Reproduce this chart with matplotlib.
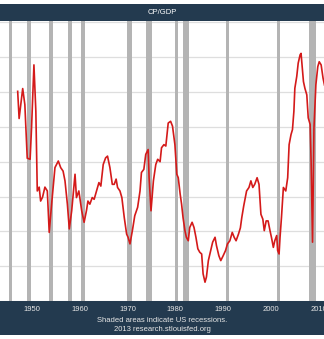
import matplotlib
matplotlib.use("Agg")
import matplotlib.pyplot as plt
from matplotlib.patches import Rectangle

# CP/GDP (percent)
years = [1947.0, 1947.3, 1948.05, 1948.5, 1949.0, 1949.6, 1949.9, 1950.4, 1950.8, 1951.1,
         1951.5, 1951.8, 1952.2, 1952.7, 1953.2, 1953.6, 1954.1, 1954.8, 1955.5, 1956.0,
         1956.5, 1956.9, 1957.4, 1957.8, 1958.3, 1959.0, 1959.3, 1959.8, 1960.4, 1960.9,
         1961.4, 1961.7, 1962.1, 1962.6, 1963.0, 1963.5, 1964.0, 1964.4, 1964.9, 1965.4,
         1965.8, 1966.3, 1966.8, 1967.2, 1967.6, 1967.9, 1968.4, 1968.8, 1969.3, 1969.8,
         1970.1, 1970.5, 1971.0, 1971.5, 1972.1, 1972.6, 1972.9, 1973.4, 1973.8, 1974.3,
         1974.5, 1974.9, 1975.4, 1975.9, 1976.3, 1976.8, 1977.1, 1977.6, 1978.0, 1978.5,
         1979.0, 1979.4, 1979.9, 1980.3, 1980.6, 1981.0, 1981.3, 1981.6, 1982.0, 1982.3,
         1982.7, 1983.0, 1983.5, 1983.9, 1984.3, 1984.7, 1985.1, 1985.5, 1985.8, 1986.2,
         1986.5, 1986.9, 1987.4, 1987.8, 1988.3, 1988.6, 1989.1, 1989.5, 1990.0, 1990.5,
         1990.9, 1991.4, 1991.9, 1992.3, 1992.7, 1993.2, 1993.6, 1993.9, 1994.3, 1994.9,
         1995.4, 1995.8, 1996.2, 1996.6, 1997.1, 1997.5, 1997.9, 1998.3, 1998.6, 1999.0,
         1999.4, 1999.8, 2000.1, 2000.5, 2000.8, 2001.2, 2001.4, 2001.7, 2001.9, 2002.2,
         2002.6, 2003.1, 2003.5, 2003.8, 2004.2, 2004.5, 2004.8, 2005.0, 2005.4, 2005.7,
         2006.1, 2006.3, 2006.5, 2006.8, 2007.1, 2007.5, 2007.8, 2008.2, 2008.4, 2008.7,
         2009.0, 2009.4, 2009.8, 2010.1, 2010.5, 2010.9, 2011.2]
cp_gdp = [9.02, 8.24, 9.10, 8.64, 7.10, 7.07, 7.97, 9.78, 8.45, 6.16,
          6.27, 5.87, 5.98, 6.27, 6.16, 4.97, 5.78, 6.83, 7.02, 6.83,
          6.73, 6.45, 5.78, 5.07, 5.59, 6.64, 5.97, 6.16, 5.59, 5.26,
          5.60, 5.87, 5.78, 5.97, 5.92, 6.16, 6.40, 6.30, 6.92, 7.11,
          7.16, 6.83, 6.35, 6.35, 6.50, 6.26, 6.16, 5.97, 5.40, 4.92,
          4.83, 4.64, 5.02, 5.45, 5.69, 6.16, 6.69, 6.78, 7.21, 7.35,
          6.54, 5.59, 6.45, 6.92, 7.07, 7.00, 7.40, 7.49, 7.45, 8.11,
          8.16, 8.02, 7.49, 6.64, 6.54, 6.07, 5.78, 5.40, 5.02, 4.83,
          4.73, 5.11, 5.26, 5.11, 4.83, 4.50, 4.40, 4.35, 3.78, 3.54,
          3.69, 4.16, 4.45, 4.69, 4.83, 4.59, 4.30, 4.16, 4.30, 4.45,
          4.64, 4.73, 4.97, 4.83, 4.73, 4.92, 5.10, 5.40, 5.73, 6.16,
          6.26, 6.45, 6.26, 6.35, 6.54, 6.35, 5.49, 5.35, 5.02, 5.30,
          5.30, 5.02, 4.83, 4.54, 4.73, 4.88, 4.45, 4.35, 4.83, 5.40,
          6.26, 6.16, 6.54, 7.49, 7.78, 7.92, 8.45, 9.11, 9.45, 9.83,
          10.07, 10.11, 9.78, 9.30, 9.11, 8.92, 8.26, 8.07, 7.02, 4.69,
          7.97, 9.21, 9.73, 9.87, 9.78, 9.40, 9.20]

recessions = [(1945.1, 1945.8), (1948.9, 1949.8), (1953.5, 1954.4), (1957.6, 1958.3),
              (1960.3, 1961.1), (1969.9, 1970.9), (1973.9, 1975.2), (1980.0, 1980.5),
              (1981.5, 1982.9), (1990.5, 1991.2), (2001.2, 2001.9), (2007.9, 2009.5)]
decades = [1950, 1960, 1970, 1980, 1990, 2000, 2010]

plt.rcParams['font.family'] = ['Liberation Sans', 'DejaVu Sans']
navy = '#233a4f'
W, H = 324, 339

fig = plt.figure(figsize=(W / 100, H / 100), dpi=100)
fig.patch.set_facecolor('white')

# header and footer bands (pixel rows from the top)
fig.patches.append(Rectangle((0, 1 - 21 / H), 1, 17 / H, transform=fig.transFigure,
                             facecolor=navy, edgecolor='none', zorder=-1))
fig.patches.append(Rectangle((0, 1 - 335 / H), 1, 34 / H, transform=fig.transFigure,
                             facecolor=navy, edgecolor='none', zorder=-1))
fig.text(0.5, 1 - 12.5 / H, 'CP/GDP', color='white', fontsize=5.5, ha='center', va='center')
fig.text(0.5, 1 - 320 / H, 'Shaded areas indicate US recessions.', color='#e6e6e6',
         fontsize=5.5, ha='center', va='center')
fig.text(0.5, 1 - 329.5 / H, '2013 research.stlouisfed.org', color='#e6e6e6',
         fontsize=5.5, ha='center', va='center')

ax = fig.add_axes([0, 1 - 301 / H, 1, 280 / H])
for s, e in recessions:
    ax.axvspan(s, e, color='#b4b4b4', lw=0, zorder=1)
ax.plot(years, cp_gdp, color='#d41a1a', lw=1.2, zorder=3)

ax.set_xlim(1943.3, 2011.1)
ax.set_ylim(3.04, 11.04)
ax.set_yticks(range(3, 12))
ax.grid(axis='y', color='#dedede', lw=0.9, zorder=0)
ax.set_axisbelow(True)
ax.set_xticks(decades)
ax.set_xticklabels([str(d) for d in decades])
ax.tick_params(axis='x', length=0, pad=3.5, labelsize=5.5, labelcolor='#e6e6e6')
ax.tick_params(axis='y', length=0, labelleft=False)
for sp in ax.spines.values():
    sp.set_visible(False)

fig.savefig('out.png', dpi=100)
